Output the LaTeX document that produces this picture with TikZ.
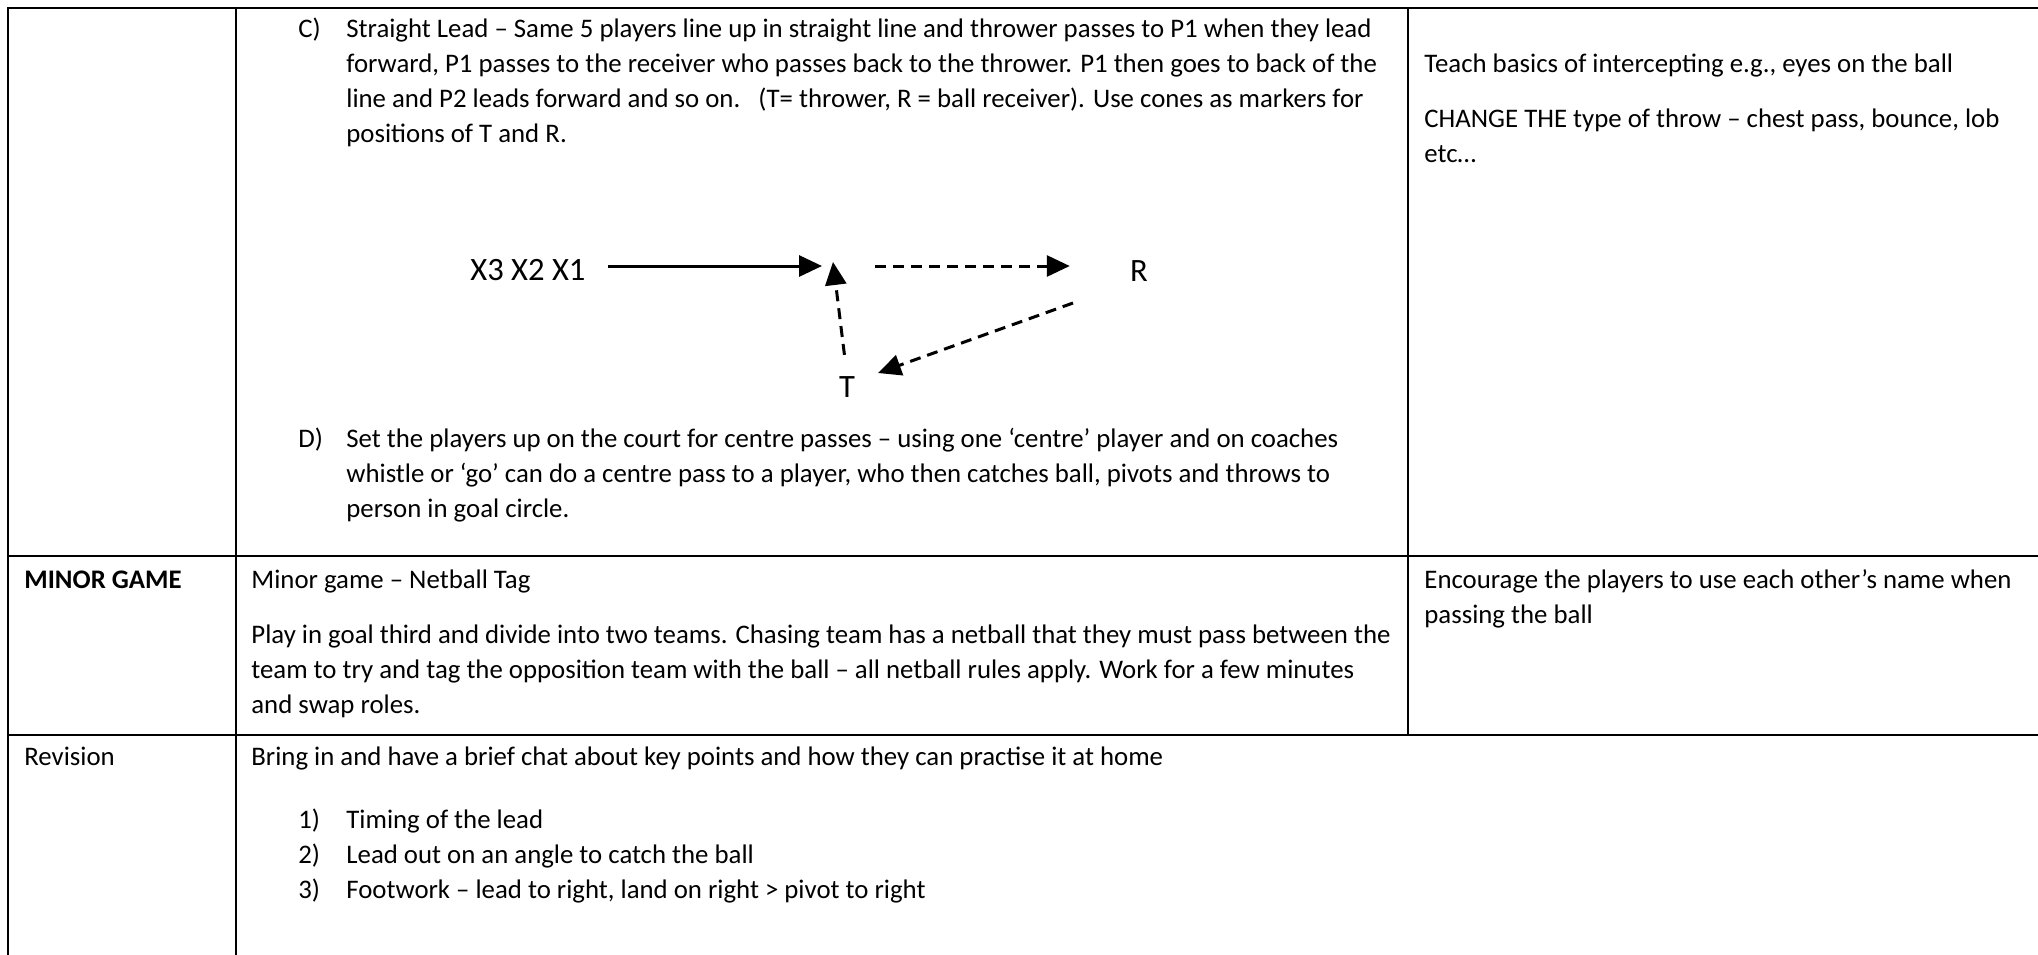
\documentclass[tikz,border=0pt]{standalone}
\usepackage{fontspec}
\setmainfont{Carlito}
\usetikzlibrary{arrows.meta}
\begin{document}
\begin{tikzpicture}[x=0.5pt,y=-0.5pt,
  tline/.style={line width=1.4pt, line cap=rect},
  body/.style={anchor=base west, inner sep=0pt, font=\fontsize{13.4}{16}\selectfont},
  bodyb/.style={body, font=\fontsize{13.4}{16}\selectfont\bfseries},
  dlab/.style={inner sep=0pt, font=\fontsize{16.3}{19}\selectfont},
  passline/.style={line width=1.5pt, -{Triangle[length=11.5pt,width=10.5pt]}},
  passdash/.style={passline, dash pattern=on 5.5pt off 3.5pt}]
\useasboundingbox (0,0) rectangle (2038,954);
% table rules
\draw[tline] (8,8) -- (2038,8);
\draw[tline] (8,556) -- (2038,556);
\draw[tline] (8,735) -- (2038,735);
\draw[tline] (8,8) -- (8,954);
\draw[tline] (236,8) -- (236,954);
\draw[tline] (1408,8) -- (1408,735);
% row 1, middle cell
\node[body] (cl) at (298,37) {C)};
\node[body] (c1) at (346,37) {Straight Lead – Same 5 players line up in straight line and thrower passes to P1 when they lead};
\node[body] (c2) at (346,72.3) {forward, P1 passes to the receiver who passes back to the thrower. P1 then goes to back of the};
\node[body] (c3) at (346,107.6) {line and P2 leads forward and so on.\ \ \ (T= thrower, R = ball receiver). Use cones as markers for};
\node[body] (c4) at (346,142.9) {positions of T and R.};
% diagram
\node[dlab, anchor=base west] (X) at (470,280.5) {X3 X2 X1};
\node[dlab, anchor=base] (R) at (1139,281) {R};
\node[dlab, anchor=base] (T) at (847,397) {T};
\coordinate (lead) at (822,266);
\coordinate (upTip) at (833,262);
\coordinate (hStart) at (875,266);
\coordinate (dTail) at (1073,303);
\coordinate (dTip) at (878,373);
\draw[passline, shorten <=11pt] (X.east |- lead) -- (lead);
\draw[passdash, shorten <=10.5pt] (T.north) -- (upTip);
\draw[passdash, shorten >=30pt] (hStart) -- (R.west |- hStart);
\draw[passdash] (dTail) -- (dTip);
% D
\node[body] (dl) at (298,447) {D)};
\node[body] (d1) at (346,447) {Set the players up on the court for centre passes – using one ‘centre’ player and on coaches};
\node[body] (d2) at (346,482.3) {whistle or ‘go’ can do a centre pass to a player, who then catches ball, pivots and throws to};
\node[body] (d3) at (346,517.6) {person in goal circle.};
% row 1, right cell
\node[body] (r1) at (1424,72.3) {Teach basics of intercepting e.g., eyes on the ball};
\node[body] (r2) at (1424,127.6) {CHANGE THE type of throw – chest pass, bounce, lob};
\node[body] (r3) at (1424,162.9) {etc…};
% row 2
\node[bodyb] (mg) at (24,588) {MINOR GAME};
\node[body] (m1) at (251,588) {Minor game – Netball Tag};
\node[body] (m2) at (251,643) {Play in goal third and divide into two teams. Chasing team has a netball that they must pass between the};
\node[body] (m3) at (251,678.3) {team to try and tag the opposition team with the ball – all netball rules apply. Work for a few minutes};
\node[body] (m4) at (251,713.6) {and swap roles.};
\node[body] (e1) at (1424,588) {Encourage the players to use each other’s name when};
\node[body] (e2) at (1424,623.3) {passing the ball};
% row 3
\node[body] (rv) at (24,765) {Revision};
\node[body] (b1) at (251,765) {Bring in and have a brief chat about key points and how they can practise it at home};
\node[body] (n1) at (298,828) {1)};
\node[body] (t1) at (346,828) {Timing of the lead};
\node[body] (n2) at (298,863.3) {2)};
\node[body] (t2) at (346,863.3) {Lead out on an angle to catch the ball};
\node[body] (n3) at (298,898.6) {3)};
\node[body] (t3) at (346,898.6) {Footwork – lead to right, land on right > pivot to right};
\end{tikzpicture}
\end{document}
